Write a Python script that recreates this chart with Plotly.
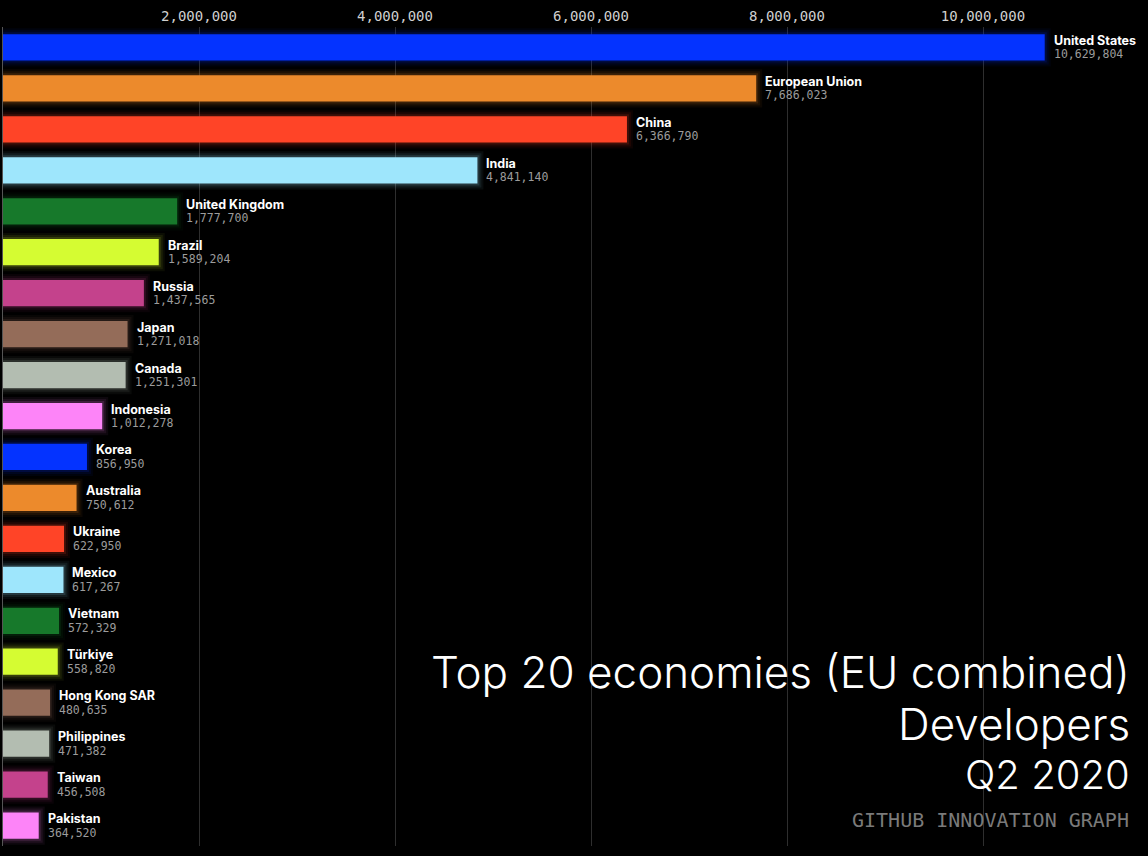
import plotly.graph_objects as go

economies = ["United States", "European Union", "China", "India", "United Kingdom",
             "Brazil", "Russia", "Japan", "Canada", "Indonesia", "Korea", "Australia",
             "Ukraine", "Mexico", "Vietnam", "Türkiye", "Hong Kong SAR", "Philippines",
             "Taiwan", "Pakistan"]
developers = [10629804, 7686023, 6366790, 4841140, 1777700, 1589204, 1437565, 1271018,
              1251301, 1012278, 856950, 750612, 622950, 617267, 572329, 558820, 480635,
              471382, 456508, 364520]
colors = ["#0433FF", "#EC8A2C", "#FF4427", "#9EE6FC", "#17792B",
          "#D5FC32", "#C4428C", "#946C59", "#B3BDB1", "#FD84F8",
          "#0433FF", "#EC8A2C", "#FF4427", "#9EE6FC", "#17792B",
          "#D5FC32", "#946C59", "#B3BDB1", "#C4428C", "#FD84F8"]
tick_vals = [2000000, 4000000, 6000000, 8000000, 10000000]
tick_text = ["2,000,000", "4,000,000", "6,000,000", "8,000,000", "10,000,000"]
title_lines = ["Top 20 economies (EU combined)", "Developers", "Q2 2020"]
source = "GITHUB INNOVATION GRAPH"


def rgba(h, a):
    h = h.lstrip("#")
    r, g, b = int(h[0:2], 16), int(h[2:4], 16), int(h[4:6], 16)
    return f"rgba({r},{g},{b},{a})"


fig = go.Figure()
# soft glow layers
for lw, a in [(12, 0.05), (8, 0.08), (4, 0.14)]:
    fig.add_trace(go.Bar(
        x=developers, y=economies, orientation="h", width=0.64,
        marker=dict(color="rgba(0,0,0,0)", line=dict(color=[rgba(c, a) for c in colors], width=lw)),
        hoverinfo="skip", showlegend=False))
fig.add_trace(go.Bar(
    x=developers, y=economies, orientation="h", width=0.64,
    marker=dict(color=colors, line=dict(width=0)),
    showlegend=False))

annotations = []
for name, val in zip(economies, developers):
    annotations.append(dict(x=val, y=name, xref="x", yref="y", text=f"<b>{name}</b>",
                            showarrow=False, xanchor="left", yanchor="middle",
                            xshift=7, yshift=7,
                            font=dict(family="Inter, Noto Sans, sans-serif", size=12.5, color="#FFFFFF")))
    annotations.append(dict(x=val, y=name, xref="x", yref="y", text=f"{val:,}",
                            showarrow=False, xanchor="left", yanchor="middle",
                            xshift=7, yshift=-7,
                            font=dict(family="DejaVu Sans Mono, monospace", size=11.5, color="#9C9C9C")))

title_y = [674, 729, 781]
title_size = [44, 44, 40]
for line, yy, sz in zip(title_lines, title_y, title_size):
    annotations.append(dict(x=1132 / 1148, y=1 - yy / 856, xref="paper", yref="paper",
                            text=line, showarrow=False, xanchor="right", yanchor="middle",
                            font=dict(family="Inter, sans-serif", size=sz, color="#FFFFFF", weight=300)))
annotations.append(dict(x=1131 / 1148, y=1 - 829 / 856, xref="paper", yref="paper",
                        text=source, showarrow=False, xanchor="right", yanchor="middle",
                        font=dict(family="DejaVu Sans Mono, monospace", size=20, color="#7A7A7A")))

fig.update_layout(
    width=1148, height=856,
    margin=dict(l=3, r=0, t=26.5, b=9.5, autoexpand=False),
    paper_bgcolor="#000000", plot_bgcolor="#000000",
    barmode="overlay",
    annotations=annotations,
    xaxis=dict(range=[0, 1145 / 98 * 1e6], side="top", tickvals=tick_vals, ticktext=tick_text,
               showgrid=True, gridcolor="#2E2E2E", gridwidth=1, zeroline=False,
               tickfont=dict(family="DejaVu Sans Mono, monospace", size=14, color="#D0D0D0"),
               ticks="", ticklabelstandoff=2, fixedrange=True),
    yaxis=dict(autorange="reversed", showticklabels=False, ticks="", showgrid=False,
               showline=True, linecolor="#555555", linewidth=1, zeroline=False,
               categoryorder="array", categoryarray=economies),
)
fig.write_html("out.html")
